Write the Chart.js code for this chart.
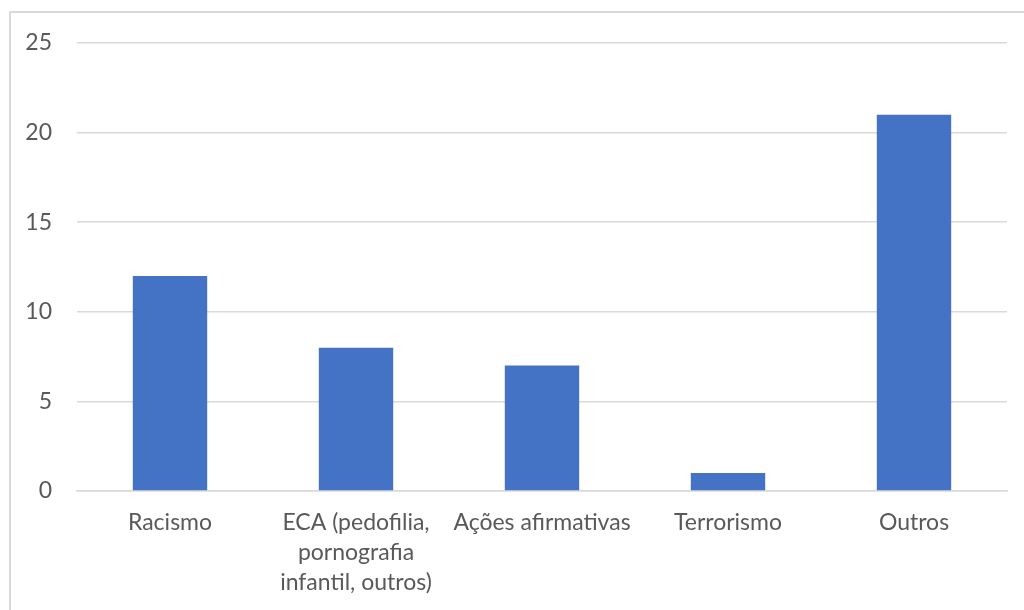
<!DOCTYPE html>
<html>
<head>
<meta charset="utf-8">
<script src="https://cdn.jsdelivr.net/npm/chart.js@4"></script>
<style>
  body { margin: 0; background: #fff; }
  #wrap { position: relative; width: 1024px; height: 610px; overflow: hidden; }
  #frame { position: absolute; left: 9px; top: 11px; width: 1100px; height: 700px; border: 2px solid #d9d9d9; }
  #chartBars { position: absolute; left: 0; top: 0; }
</style>
</head>
<body>
<div id="wrap">
  <div id="frame"></div>
  <canvas id="chartBars" width="1024" height="610"></canvas>
</div>
<script>
const categories = [
  'Racismo',
  ['ECA (pedofilia,', 'pornografia', 'infantil, outros)'],
  'Ações afirmativas',
  'Terrorismo',
  'Outros',
];
const counts = [12, 8, 7, 1, 21];
const yTicks = [0, 5, 10, 15, 20, 25];

const textColor = '#595959';
const gridColor = '#d9d9d9';

const dataBars = {
  labels: categories,
  datasets: [
    {
      label: 'Casos',
      data: counts,
      backgroundColor: '#4472c4',
      categoryPercentage: 1,
      barPercentage: 0.4,
    },
  ],
};

const configBars = {
  type: 'bar',
  data: dataBars,
  options: {
    responsive: false,
    animation: false,
    layout: { padding: { left: 0, right: 17, top: 43, bottom: 0 } },
    plugins: { legend: { display: false }, tooltip: { enabled: false } },
    scales: {
      x: {
        grid: { display: false, drawTicks: false },
        border: { color: gridColor, width: 1.5 },
        ticks: {
          color: textColor,
          font: { family: 'Lato', size: 23, lineHeight: 1.3 },
          padding: 17,
          maxRotation: 0,
          autoSkip: false,
        },
        afterFit: (s) => { s.height = 119; },
      },
      y: {
        min: 0,
        max: 25,
        afterBuildTicks: (s) => { s.ticks = yTicks.map((v) => ({ value: v })); },
        grid: { color: gridColor, lineWidth: 1.5, drawTicks: false },
        border: { display: false },
        ticks: {
          color: textColor,
          font: { family: 'Lato', size: 23 },
          padding: 25,
        },
        afterFit: (s) => { s.width = 77; },
      },
    },
  },
};

var chartBars = new Chart(document.getElementById('chartBars'), configBars);
</script>
</body>
</html>
